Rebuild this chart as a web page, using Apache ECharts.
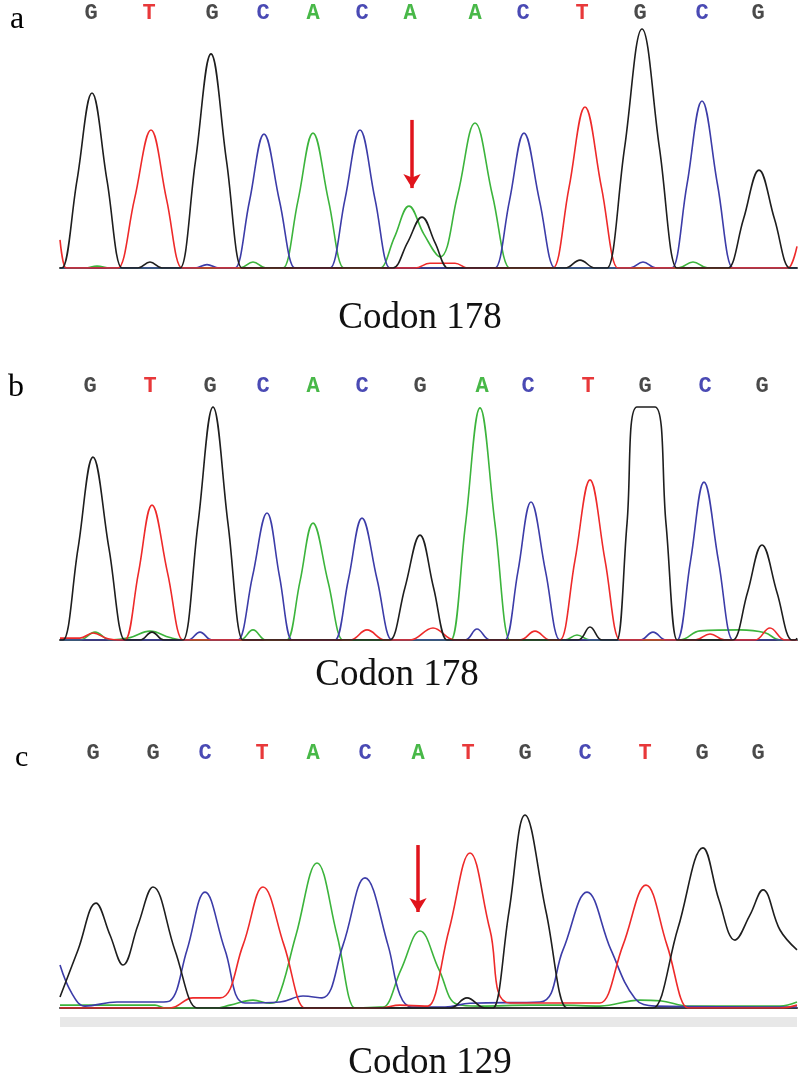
<!DOCTYPE html>
<html>
<head>
<meta charset="utf-8">
<script src="https://cdn.jsdelivr.net/npm/echarts@6/dist/echarts.min.js"></script>
<style>
html,body{margin:0;padding:0;background:#fff;}
#chart{width:800px;height:1076px;}
</style>
</head>
<body>
<div id="chart"></div>
<script>
// ---------- DATA (x = scan point, y = signal intensity) ----------
const basesA = ['G','T','G','C','A','C','A','A','C','T','G','C','G'];
const basePosA = [31, 89, 152, 203, 253, 302, 350, 415, 463, 522, 580, 642, 698];
const basesB = ['G','T','G','C','A','C','G','A','C','T','G','C','G'];
const basePosB = [30, 90, 150, 203, 253, 302, 360, 422, 468, 528, 585, 645, 702];
const basesC = ['G','G','C','T','A','C','A','T','G','C','T','G','G'];
const basePosC = [33, 93, 145, 202, 253, 305, 358, 408, 465, 525, 585, 642, 698];

const captions = ['Codon 178', 'Codon 178', 'Codon 129'];
const panelLabels = ['a', 'b', 'c'];

// Panel a traces
const aG = [[0,0],[2,0],[17,365],[32,729],[47,365],[62,0],[65,0],[78,0],[90,25],[102,0],[117,0],[120,0],[135.5,446],[151,892],[166.5,446],[182,0],[185,0],[330,0],[333,0],[347.5,106],[362,212],[375,106],[388,0],[391,0],[505,0],[520,33],[535,0],[544,0],[547,0],[564.5,498],[582,996],[599.5,498],[617,0],[620,0],[665,0],[668,0],[683.5,204],[699,408],[714.5,204],[730,0],[733,0],[737,0]];
const aT = [[0,117],[6,0],[9,0],[55,0],[58,0],[74.5,287],[91,575],[106.5,287],[122,0],[125,0],[355,0],[370,20],[395,20],[408,0],[490,0],[493,0],[509,335],[525,671],[541.5,335],[558,0],[561,0],[725,0],[728,0],[737,90]];
const aC = [[0,0],[135,0],[147,14],[159,0],[172,0],[175,0],[189.5,279],[204,558],[219.5,279],[235,0],[238,0],[267,0],[270,0],[285,287],[300,575],[315,287],[330,0],[333,0],[432,0],[435,0],[449.5,281],[464,562],[479.5,281],[495,0],[498,0],[570,0],[583,25],[596,0],[609,0],[612,0],[627,348],[642,696],[657.5,348],[673,0],[676,0],[737,0]];
const aA = [[0,0],[25,0],[37,8],[50,0],[180,0],[193,25],[206,0],[220,0],[223,0],[238,281],[253,562],[268.5,281],[284,0],[287,0],[317,0],[320,0],[334.5,129],[349,258],[364,140],[380,46],[397.5,302],[415,604],[432.5,302],[450,0],[453,0],[618,0],[633,25],[648,0],[737,0]];

// Panel b traces
const bG = [[0,0],[3,0],[18,381],[33,762],[49,381],[65,0],[68,0],[80,0],[92,33],[104,0],[120,0],[123,0],[138,485],[153,971],[168,485],[183,0],[186,0],[327,0],[330,0],[345,219],[360,437],[373.5,219],[387,0],[390,0],[518,0],[530,54],[542,0],[554,0],[557,0],[567,485],[577,971],[595,971],[606,485],[617,0],[620,0],[670,0],[673,0],[687.5,198],[702,396],[717,198],[732,0],[735,0],[737,8]];
const bT = [[0,8],[20,8],[33,29],[48,5],[62,0],[65,0],[78.5,281],[92,562],[107.5,281],[123,0],[126,0],[290,0],[307,42],[325,0],[350,0],[373,50],[395,0],[460,0],[475,37],[490,0],[497,0],[500,0],[515,333],[530,667],[545,333],[560,0],[563,0],[635,0],[650,25],[665,0],[695,0],[710,50],[725,0],[737,0]];
const bC = [[0,0],[128,0],[140,33],[152,0],[175,0],[178,0],[192.5,265],[207,529],[219.5,265],[232,0],[235,0],[272,0],[275,0],[288.5,254],[302,508],[317,254],[332,0],[335,0],[405,0],[417,46],[430,0],[442,0],[445,0],[458,287],[471,575],[485.5,287],[500,0],[503,0],[580,0],[593,33],[606,0],[614,0],[617,0],[630.5,329],[644,658],[658.5,329],[673,0],[676,0],[737,0]];
const bA = [[0,0],[20,0],[35,33],[50,0],[70,10],[90,37],[110,10],[123,0],[180,0],[193,42],[206,0],[224,0],[227,0],[240,244],[253,487],[268,244],[283,0],[286,0],[388,0],[391,0],[405.5,483],[420,967],[435,483],[450,0],[453,0],[505,0],[517,21],[530,0],[620,0],[640,38],[680,42],[705,30],[720,0],[737,0]];

// Panel c traces
const cG = [[0,46],[18,242],[36,437],[50,304],[63,179],[78,346],[93,504],[115,240],[137,0],[140,0],[390,0],[407,42],[425,0],[430,0],[433,0],[449,402],[465,804],[486,402],[507,0],[510,0],[590,0],[593,0],[618,333],[643,667],[659,450],[675,283],[690,388],[703,492],[720,325],[737,242]];
const cT = [[0,0],[110,0],[133,42],[160,42],[183,262],[203,504],[224,262],[245,0],[248,0],[320,0],[340,12],[365,8],[368,8],[389,325],[410,646],[430,325],[450,21],[533,21],[540,21],[563,262],[586,512],[607,262],[628,0],[631,0],[720,0],[737,12]];
const cC = [[0,179],[12,60],[25,8],[57,25],[100,25],[110,30],[127,242],[145,483],[165,242],[185,21],[220,25],[243,50],[262,42],[283,262],[305,542],[328,262],[340,54],[352,4],[385,4],[410,20],[480,25],[503,242],[527,483],[551,242],[575,40],[595,8],[737,4]];
const cA = [[0,12],[95,12],[105,0],[155,0],[170,12],[193,33],[210,20],[217,30],[236,304],[257,604],[277,304],[295,0],[298,0],[320,4],[323,4],[341,160],[360,321],[379,160],[397,16],[420,8],[470,12],[500,12],[540,8],[580,33],[600,30],[630,8],[720,8],[737,25]];

// Red arrows: [scan, from intensity, to intensity]
const arrowA = [352, 617, 333];
const arrowC = [358, 679, 400];

// ---------- CHART ----------
const colors = { G: '#1e1e1e', T: '#ee2a2a', C: '#3c3ca8', A: '#3cb43c' };
const letterColors = { G: '#4a4a4a', T: '#e8383a', C: '#4a4ab4', A: '#48b848' };

const panels = [
  { bases: basesA, pos: basePosA, traces: { G: aG, T: aT, C: aC, A: aA }, arrow: arrowA, top: 28, bottom: 808, margin: 4 },
  { bases: basesB, pos: basePosB, traces: { G: bG, T: bT, C: bC, A: bA }, arrow: null, top: 400, bottom: 436, margin: 3 },
  { bases: basesC, pos: basePosC, traces: { G: cG, T: cT, C: cC, A: cA }, arrow: arrowC, top: 768, bottom: 68, margin: 4 }
];

const rich = {};
Object.keys(letterColors).forEach(k => {
  rich[k] = { color: letterColors[k], fontFamily: 'Liberation Mono', fontWeight: 'bold', fontSize: 22 };
});

const grid = [], xAxis = [], yAxis = [], series = [];
panels.forEach((p, i) => {
  grid.push({ left: 60, right: 3, top: p.top, bottom: p.bottom });
  xAxis.push({
    type: 'value', gridIndex: i, min: 0, max: 737, position: 'bottom',
    axisLine: { show: true, onZero: false, lineStyle: { color: '#3a3a3a', width: 2 } },
    axisTick: { show: false }, axisLabel: { show: false }, splitLine: { show: false }
  });
  xAxis.push({
    type: 'value', gridIndex: i, min: 0, max: 737, position: 'top',
    axisLine: { show: false }, axisTick: { show: false }, splitLine: { show: false },
    axisLabel: {
      show: true, margin: p.margin, customValues: p.pos,
      formatter: (v) => { const b = p.bases[p.pos.indexOf(v)]; return b ? '{' + b + '|' + b + '}' : ''; },
      rich: rich
    }
  });
  yAxis.push({ type: 'value', gridIndex: i, min: 0, max: 1000, show: false });
  ['A', 'C', 'T', 'G'].forEach(b => {
    const s = {
      type: 'line', name: b + i, xAxisIndex: i * 2, yAxisIndex: i,
      data: p.traces[b], smooth: 0.4, symbol: 'none',
      lineStyle: { color: colors[b], width: 1.6 }, silent: true, animation: false
    };
    if (b === 'G' && p.arrow) {
      s.markLine = {
        silent: true, animation: false,
        symbol: ['none', 'arrow'], symbolSize: [13, 14],
        label: { show: false },
        lineStyle: { color: '#e0141c', width: 3.5, type: 'solid' },
        data: [[{ coord: [p.arrow[0], p.arrow[1]] }, { coord: [p.arrow[0], p.arrow[2]] }]]
      };
    }
    series.push(s);
  });
});

const chart = echarts.init(document.getElementById('chart'), null, { renderer: 'canvas' });
chart.setOption({
  backgroundColor: '#ffffff',
  animation: false,
  grid, xAxis, yAxis, series,
  graphic: [
    { type: 'rect', shape: { x: 60, y: 1017, width: 737, height: 10 }, style: { fill: '#e8e8e8' }, z: -1 },
    { type: 'text', x: 10, y: 20, style: { text: panelLabels[0], font: '32px "Liberation Serif"', fill: '#000', verticalAlign: 'middle' } },
    { type: 'text', x: 8, y: 388, style: { text: panelLabels[1], font: '32px "Liberation Serif"', fill: '#000', verticalAlign: 'middle' } },
    { type: 'text', x: 15, y: 758, style: { text: panelLabels[2], font: '30px "Liberation Serif"', fill: '#000', verticalAlign: 'middle' } },
    { type: 'text', x: 420, y: 318, style: { text: captions[0], font: '37px "Liberation Serif"', fill: '#111', align: 'center', verticalAlign: 'middle' } },
    { type: 'text', x: 397, y: 675, style: { text: captions[1], font: '37px "Liberation Serif"', fill: '#111', align: 'center', verticalAlign: 'middle' } },
    { type: 'text', x: 430, y: 1063, style: { text: captions[2], font: '37px "Liberation Serif"', fill: '#111', align: 'center', verticalAlign: 'middle' } }
  ]
});
</script>
</body>
</html>
